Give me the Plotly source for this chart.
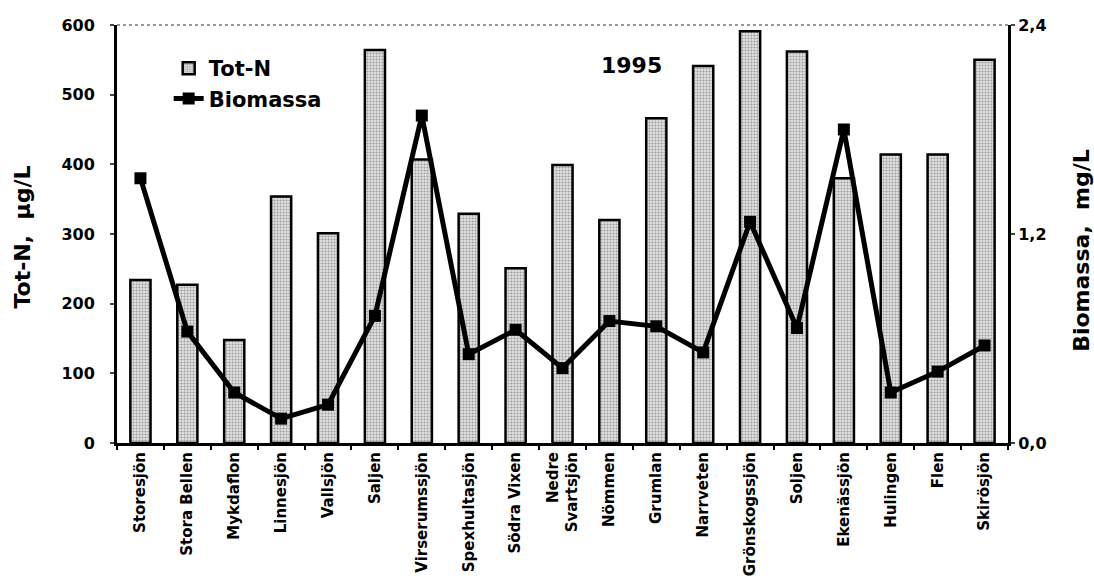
import plotly.graph_objects as go

lakes = ["Storesjön", "Stora Bellen", "Mykdaflon", "Linnesjön", "Vallsjön", "Saljen",
         "Virserumssjön", "Spexhultasjön", "Södra Vixen", "Nedre<br>Svartsjön", "Nömmen",
         "Grumlan", "Narrveten", "Grönskogssjön", "Soljen", "Ekenässjön", "Hulingen",
         "Flen", "Skirösjön"]
tot_n = [234, 227, 148, 354, 301, 564, 407, 329, 251, 399, 320, 466, 541, 591, 562,
         380, 414, 414, 550]
biomassa = [1.52, 0.64, 0.29, 0.14, 0.22, 0.73, 1.88, 0.51, 0.65, 0.43, 0.70, 0.67,
            0.52, 1.27, 0.66, 1.80, 0.29, 0.41, 0.56]
left_ticks = [0, 100, 200, 300, 400, 500, 600]
right_ticks = [0, 1.2, 2.4]
right_ticktext = ["0,0", "1,2", "2,4"]

FONT = "DejaVu Sans, Liberation Sans, Arial, sans-serif"

fig = go.Figure()
fig.add_trace(go.Bar(
    x=lakes, y=tot_n, name="Tot-N", width=0.43,
    marker=dict(color="#d0d0d0",
                line=dict(color="black", width=2.5),
                pattern=dict(shape=".", fgcolor="#555555", bgcolor="#e2e2e2",
                             size=3, solidity=0.4)),
))
fig.add_trace(go.Scatter(
    x=lakes, y=biomassa, name="Biomassa", yaxis="y2", mode="lines+markers",
    line=dict(color="black", width=5),
    marker=dict(symbol="square", size=12, color="black"),
))

fig.update_layout(
    width=1094, height=584,
    margin=dict(l=117, r=86, t=25, b=141, autoexpand=False),
    paper_bgcolor="white", plot_bgcolor="white",
    font=dict(family=FONT, color="black", size=16, weight="bold"),
    showlegend=True,
    legend=dict(x=0.058, y=0.945, xanchor="left", yanchor="top",
                bgcolor="rgba(0,0,0,0)", font=dict(size=21, weight="bold"),
                tracegroupgap=0, itemwidth=30),
    xaxis=dict(range=[-0.5, 18.5], showline=True, linecolor="black", linewidth=3,
               ticks="outside", ticklen=4, tickwidth=2, tickcolor="black",
               tickson="boundaries", tickangle=-90,
               tickfont=dict(size=15, weight="bold"), showgrid=False),
    yaxis=dict(range=[0, 600], tickvals=left_ticks, showline=True, linecolor="black",
               linewidth=3, ticks="outside", ticklen=4, tickwidth=2, showgrid=False,
               zeroline=False, tickfont=dict(size=16, weight="bold"),
               ticklabelstandoff=12),
    yaxis2=dict(range=[0, 2.4], tickvals=right_ticks, ticktext=right_ticktext,
                overlaying="y", side="right", showline=True, linecolor="black",
                linewidth=3, ticks="outside", ticklen=4, tickwidth=2, showgrid=False,
                zeroline=False, tickfont=dict(size=16, weight="bold")),
    annotations=[
        dict(text="1995", x=0.578, y=0.904, xref="paper", yref="paper",
             xanchor="center", yanchor="middle",
             showarrow=False, font=dict(size=22, weight="bold")),
        dict(text="Tot-N,  µg/L", x=-0.106, y=0.493, xref="paper", yref="paper",
             xanchor="center", yanchor="middle",
             textangle=-90, showarrow=False, font=dict(size=22, weight="bold")),
        dict(text="Biomassa,  mg/L", x=1.083, y=0.462, xref="paper", yref="paper",
             xanchor="center", yanchor="middle",
             textangle=-90, showarrow=False, font=dict(size=22, weight="bold")),
    ],
    shapes=[dict(type="line", xref="paper", yref="paper", x0=0, x1=1, y0=1, y1=1,
                 line=dict(color="#777777", width=1.5, dash="dot"))],
)

fig.write_html("out.html", config={"displayModeBar": False},
               post_script="document.body.style.margin='0';document.body.style.overflow='hidden';")
